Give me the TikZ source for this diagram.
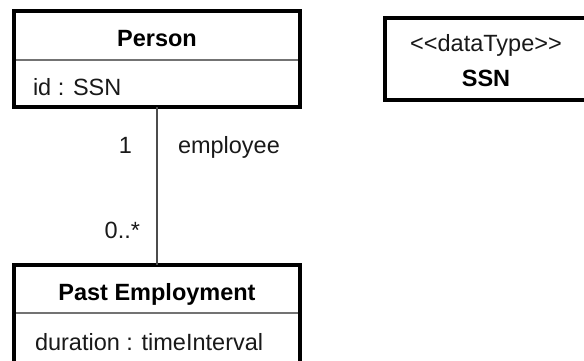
\documentclass[tikz,border=0pt]{standalone}
\usepackage{fontspec}
\setmainfont{Liberation Sans}
\tikzset{
  umlbox/.style={draw=black, line width=4pt, fill=white, inner sep=0pt, outer sep=0pt},
  sepline/.style={draw=black!55, line width=2pt},
  assoc/.style={draw=black!70, line width=2pt},
  lbl/.style={inner sep=0pt, outer sep=0pt, text=black!90, font=\fontsize{23.5}{28}\selectfont},
  boldlbl/.style={inner sep=0pt, outer sep=0pt, text=black, font=\fontsize{23.5}{28}\selectfont\bfseries},
}
\begin{document}
\begin{tikzpicture}[x=1pt, y=-1pt]
\useasboundingbox (0,0) rectangle (584,360);
\clip (0,0) rectangle (584,360);
% class boxes
\node[umlbox, anchor=north west, minimum width=286pt, minimum height=96.5pt] (person) at (14,10.5) {};
\node[umlbox, anchor=north west, minimum width=286pt, minimum height=130pt] (past) at (14,265) {};
\node[umlbox, anchor=north west, minimum width=202pt, minimum height=81.5pt] (ssn) at (385,18) {};
% compartment separators
\draw[sepline] (16,60) -- (298,60);
\draw[sepline] (16,313) -- (298,313);
% association
\draw[assoc] (person.south) -- (past.north);
% texts
\node[boldlbl, anchor=base] (ptitle) at (157,46) {Person};
\node[lbl, anchor=base west] (pattr) at (33,95.5) {id : SSN};
\node[boldlbl, anchor=base] (etitle) at (157,300) {Past Employment};
\node[lbl, anchor=base west] (eattr) at (35,350) {duration : timeInterval};
\node[lbl, anchor=base] (stereo) at (486,51) {<{}<dataType>{}>};
\node[boldlbl, anchor=base] (ssnname) at (486,86) {SSN};
\node[lbl, anchor=base east] (m1) at (132,153) {1};
\node[lbl, anchor=base west] (role) at (178,153) {employee};
\node[lbl, anchor=base east] (m2) at (140,238) {0..*};
\end{tikzpicture}
\end{document}
